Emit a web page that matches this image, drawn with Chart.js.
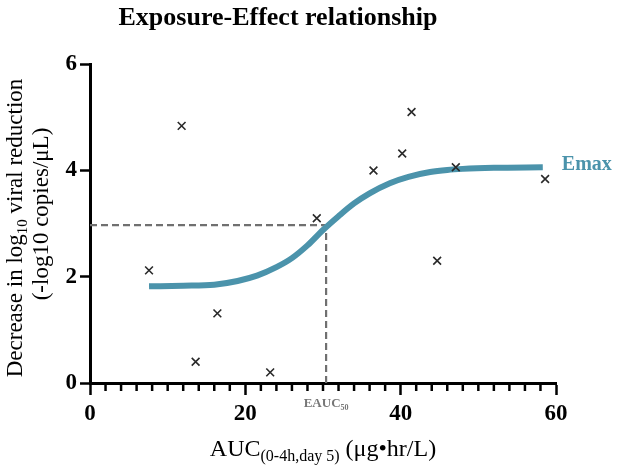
<!DOCTYPE html>
<html>
<head>
<meta charset="utf-8">
<script src="https://cdn.jsdelivr.net/npm/chart.js@4"></script>
<style>
  html, body { margin: 0; padding: 0; background: #fff; }
  #wrap { width: 617px; height: 470px; }
</style>
</head>
<body>
<div id="wrap"><canvas id="myChart" width="617" height="470"></canvas></div>
<script>
// observed points
var aucValues    = [7.6, 11.8, 13.6, 16.4, 23.2, 29.2, 36.5, 40.2, 41.4, 44.7, 47.1, 58.6];
var effectValues = [2.12, 4.84, 0.40, 1.31, 0.20, 3.10, 4.00, 4.32, 5.10, 2.30, 4.06, 3.84];

// Emax fit curve
var fitAuc    = [7.6, 12, 16, 19, 21.5, 24, 26, 28, 30, 32, 34, 36, 38.6, 41, 43.8, 46, 48, 52, 58.3];
var fitEffect = [1.82, 1.83, 1.85, 1.92, 2.02, 2.18, 2.35, 2.59, 2.88, 3.14, 3.38, 3.57, 3.76, 3.88, 3.97, 4.01, 4.03, 4.05, 4.06];

var eauc50 = 30.4;
var effect50 = 2.97;

var xTicks = [0, 20, 40, 60];
var yTicks = [0, 2, 4, 6];

var curveColor = '#4b93ab';
var serif = '"Liberation Serif", "DejaVu Serif", serif';

function toPoints(xs, ys) {
  return xs.map(function (x, i) { return { x: x, y: ys[i] }; });
}

// draw text with subscript pieces, centered on (cx, cy)
function drawRich(ctx, parts, cx, cy, size, weight, color, rotate) {
  ctx.save();
  ctx.translate(cx, cy);
  if (rotate) ctx.rotate(-Math.PI / 2);
  ctx.fillStyle = color;
  ctx.textBaseline = 'middle';
  ctx.textAlign = 'left';
  var total = 0;
  parts.forEach(function (p) {
    ctx.font = weight + ' ' + (p.sub ? Math.round(size * 0.65) : size) + 'px ' + serif;
    p.w = ctx.measureText(p.t).width;
    total += p.w;
  });
  var x = -total / 2;
  parts.forEach(function (p) {
    ctx.font = weight + ' ' + (p.sub ? Math.round(size * 0.65) : size) + 'px ' + serif;
    ctx.fillText(p.t, x, p.sub ? size * 0.3 : 0);
    x += p.w;
  });
  ctx.restore();
}

var extras = {
  id: 'extras',
  afterDraw: function (chart) {
    var ctx = chart.ctx;
    var xs = chart.scales.x, ys = chart.scales.y;
    var bottom = ys.getPixelForValue(0);
    // minor ticks on x axis
    ctx.save();
    ctx.strokeStyle = '#000';
    ctx.lineWidth = 2.5;
    for (var v = 2; v < 60; v += 2) {
      if (v % 20 === 0) continue;
      var px = xs.getPixelForValue(v);
      ctx.beginPath();
      ctx.moveTo(px, bottom);
      ctx.lineTo(px, bottom + 8);
      ctx.stroke();
    }
    ctx.restore();

    // EAUC50 label under the axis
    drawRich(ctx, [{ t: 'EAUC' }, { t: '50', sub: true }],
      xs.getPixelForValue(eauc50), bottom + 21, 13, 'bold', '#777', false);

    // Emax label at the end of the curve
    var last = fitAuc.length - 1;
    ctx.save();
    ctx.font = 'bold 20px ' + serif;
    ctx.fillStyle = curveColor;
    ctx.textBaseline = 'middle';
    ctx.fillText('Emax', xs.getPixelForValue(fitAuc[last]) + 19, ys.getPixelForValue(fitEffect[last]) - 2);
    ctx.restore();

    // axis titles
    var midX = (chart.chartArea.left + chart.chartArea.right) / 2;
    drawRich(ctx, [{ t: 'AUC' }, { t: '(0-4h,day 5)', sub: true }, { t: ' (μg•hr/L)' }],
      midX, 450, 24, 'normal', '#000', false);
    drawRich(ctx, [{ t: 'Decrease in log' }, { t: '10', sub: true }, { t: ' viral reduction' }],
      16, 228, 23, 'normal', '#000', true);
    drawRich(ctx, [{ t: '(-log10 copies/μL)' }],
      42, 214, 23, 'normal', '#000', true);
  }
};

var ctx = document.getElementById('myChart').getContext('2d');
var chartOne = new Chart(ctx, {
  type: 'scatter',
  data: {
    datasets: [
      {
        label: 'Observed',
        data: toPoints(aucValues, effectValues),
        pointStyle: 'crossRot',
        pointRadius: 5.5,
        pointBorderWidth: 1.6,
        borderColor: '#2a2a2a',
        backgroundColor: '#2a2a2a',
        order: 0
      },
      {
        label: 'Emax',
        data: toPoints(fitAuc, fitEffect),
        showLine: true,
        borderColor: curveColor,
        borderWidth: 6,
        cubicInterpolationMode: 'monotone',
        pointRadius: 0,
        order: 1
      },
      {
        label: 'EAUC50 h',
        data: [{ x: 0, y: effect50 }, { x: eauc50, y: effect50 }],
        showLine: true,
        borderColor: '#707070',
        borderWidth: 2.2,
        borderDash: [7, 4],
        pointRadius: 0,
        order: 2
      },
      {
        label: 'EAUC50 v',
        data: [{ x: eauc50, y: 0 }, { x: eauc50, y: effect50 }],
        showLine: true,
        borderColor: '#707070',
        borderWidth: 2.2,
        borderDash: [7, 4],
        pointRadius: 0,
        order: 2
      }
    ]
  },
  options: {
    responsive: false,
    animation: false,
    layout: { padding: { left: 0, right: 61, top: 0, bottom: 0 } },
    plugins: {
      legend: { display: false },
      tooltip: { enabled: false },
      title: {
        display: true,
        text: 'Exposure-Effect relationship',
        color: '#000',
        font: { family: serif, size: 26, weight: 'bold' },
        padding: { top: 3, bottom: 30 }
      }
    },
    scales: {
      x: {
        type: 'linear',
        min: 0,
        max: 60,
        afterFit: function (scale) { scale.height = 87; },
        afterBuildTicks: function (scale) {
          scale.ticks = xTicks.map(function (v) { return { value: v }; });
        },
        border: { display: true, color: '#000', width: 3 },
        grid: { drawOnChartArea: false, drawTicks: true, tickLength: 12, tickWidth: 2.5, tickColor: '#000' },
        ticks: { color: '#000', padding: 5, font: { family: serif, size: 23, weight: 'bold' } }
      },
      y: {
        type: 'linear',
        min: 0,
        max: 6,
        afterFit: function (scale) { scale.width = 90; },
        afterBuildTicks: function (scale) {
          scale.ticks = yTicks.map(function (v) { return { value: v }; });
        },
        border: { display: true, color: '#000', width: 3 },
        grid: { drawOnChartArea: false, drawTicks: true, tickLength: 10, tickWidth: 2.5, tickColor: '#000' },
        ticks: { color: '#000', padding: 3, font: { family: serif, size: 23, weight: 'bold' } }
      }
    }
  },
  plugins: [extras]
});
</script>
</body>
</html>
